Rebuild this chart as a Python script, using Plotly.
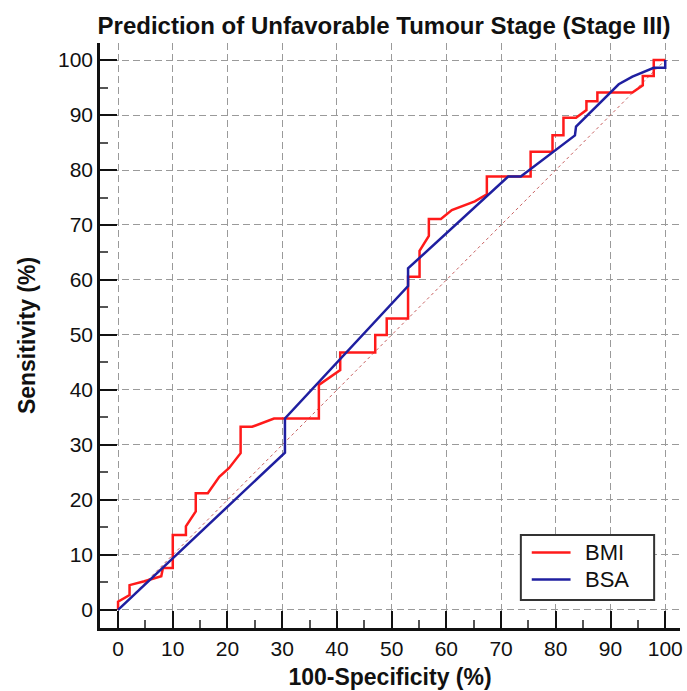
import plotly.graph_objects as go

# BMI ROC curve (100-Specificity %, Sensitivity %)
bmi_fpr = [0, 0, 2.1, 2.1, 4.8, 7.9, 8.2, 10, 10, 12.4, 12.4, 14.2, 14.2, 16.4, 18.5, 20.3,
           22.4, 22.4, 24.5, 28.5, 36.7, 36.7, 40.6, 40.6, 47, 47, 49.1, 49.1, 53, 53,
           55.1, 55.1, 56.8, 56.8, 59, 61, 65.2, 67.4, 67.4, 75.4, 75.4, 79.4, 79.4,
           81.4, 81.4, 83.7, 85.6, 85.6, 87.6, 87.6, 94, 95.9, 95.9, 97.9, 97.9, 100]
bmi_tpr = [0, 1.5, 2.7, 4.5, 5.2, 6.1, 7.6, 7.6, 13.6, 13.6, 15.2, 17.9, 21.2, 21.2, 24.2, 25.8,
           28.5, 33.3, 33.3, 34.8, 34.8, 40.9, 43.6, 46.8, 46.8, 50, 50, 53, 53, 60.6,
           60.6, 65.3, 68, 71.1, 71.1, 72.7, 74.3, 75.6, 78.8, 78.8, 83.3, 83.3, 86.3,
           86.3, 89.5, 89.5, 90.9, 92.5, 92.5, 94.1, 94.1, 95.4, 97.1, 97.1, 100, 100]

# BSA ROC curve
bsa_fpr = [0, 30.5, 30.5, 53, 53, 71.3, 73.6, 83.5, 83.7, 90, 91.5, 94, 97.9, 100, 100]
bsa_tpr = [0, 28.6, 34.8, 58.9, 62.1, 78.8, 78.8, 86.3, 87.9, 94.2, 95.6, 97, 98.6, 98.6, 100]

# Reference line
ref_x = [0, 100]
ref_y = [0, 100]

tick_vals = [0, 10, 20, 30, 40, 50, 60, 70, 80, 90, 100]

series_names = ["BMI", "BSA"]
series_colors = ["#ff1a1a", "#1f1fa0"]

FONT = "Liberation Sans, Arial"

fig = go.Figure()
fig.add_trace(go.Scatter(x=ref_x, y=ref_y, mode="lines", showlegend=False,
                         line=dict(color="#c86060", width=1, dash="dot"), hoverinfo="skip"))
fig.add_trace(go.Scatter(x=bmi_fpr, y=bmi_tpr, mode="lines", name=series_names[0],
                         showlegend=False, line=dict(color=series_colors[0], width=2.5)))
fig.add_trace(go.Scatter(x=bsa_fpr, y=bsa_tpr, mode="lines", name=series_names[1],
                         showlegend=False, line=dict(color=series_colors[1], width=2.5)))

axis_common = dict(
    tickvals=tick_vals,
    ticks="inside", ticklen=17, tickwidth=2, tickcolor="#111",
    showline=True, linewidth=2.5, linecolor="#111", mirror=False,
    showgrid=True, gridcolor="#9a9a9a", gridwidth=1, griddash="7px,4px",
    zeroline=False,
    tickfont=dict(family=FONT, size=21, color="#111"),
    minor=dict(dtick=5, tick0=0, ticks="inside", ticklen=8, tickwidth=1.5,
               tickcolor="#555", showgrid=False),
)

# Manual legend box (paper coordinates)
lg_x0, lg_x1 = 0.7256, 0.9554
lg_y0, lg_y1 = 0.048, 0.159
shapes = [dict(type="rect", xref="paper", yref="paper", x0=lg_x0, x1=lg_x1, y0=lg_y0, y1=lg_y1,
               line=dict(color="#333", width=2), fillcolor="white", layer="above")]
annotations = []
entry_y = [0.129, 0.083]
for name, col, ey in zip(series_names, series_colors, entry_y):
    shapes.append(dict(type="line", xref="paper", yref="paper", x0=0.7444, x1=0.8113,
                       y0=ey, y1=ey, line=dict(color=col, width=2.5), layer="above"))
    annotations.append(dict(xref="paper", yref="paper", x=0.832, y=ey, text=name,
                            showarrow=False, xanchor="left", yanchor="middle",
                            font=dict(family=FONT, size=22, color="#111")))

fig.update_layout(
    width=687, height=691,
    margin=dict(l=100, r=4, t=43, b=63),
    paper_bgcolor="white", plot_bgcolor="white",
    title=dict(text="<b>Prediction of Unfavorable Tumour Stage (Stage III)</b>",
               x=0.559, xanchor="center", y=0.963, yanchor="middle",
               font=dict(family=FONT, size=24, color="#111")),
    xaxis=dict(range=[-3.3, 102.7],
               title=dict(text="<b>100-Specificity (%)</b>", standoff=10,
                          font=dict(family=FONT, size=23, color="#111")),
               **axis_common),
    yaxis=dict(range=[-3.3, 103.1],
               title=dict(text="<b>Sensitivity (%)</b>", standoff=16,
                          font=dict(family=FONT, size=23, color="#111")),
               **axis_common),
    shapes=shapes,
    annotations=annotations,
    showlegend=False,
)

fig.write_html("out.html")
